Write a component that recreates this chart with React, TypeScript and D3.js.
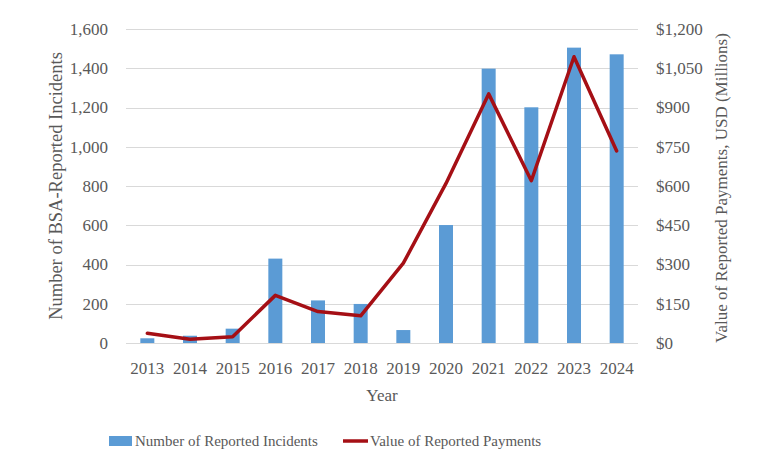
import React, { useEffect, useRef } from "react";
import * as d3 from "d3";

const years = ["2013", "2014", "2015", "2016", "2017", "2018", "2019", "2020", "2021", "2022", "2023", "2024"];
const incidents = [24, 37, 73, 430, 217, 199, 66, 601, 1398, 1201, 1505, 1471];
const payments = [37, 14, 24, 182, 120, 104, 305, 610, 952, 620, 1094, 734];
const leftTicks = [0, 200, 400, 600, 800, 1000, 1200, 1400, 1600];
const rightTicks = [0, 150, 300, 450, 600, 750, 900, 1050, 1200];

const BAR = "#5b9bd5";
const LINE = "#a50f15";
const TEXT = "#595959";
const FONT = "'Liberation Serif', 'DejaVu Serif', serif";

const App = () => {
  const ref = useRef<SVGSVGElement>(null);

  useEffect(() => {
    draw();
  });

  const draw = () => {
    const svg = d3.select(ref.current);
    svg.selectAll("*").remove();

    const left = 126;
    const right = 638;
    const top = 29;
    const bottom = 343;

    const x = d3.scaleBand().domain(years).range([left, right]).paddingInner(0).paddingOuter(0);
    const yL = d3.scaleLinear().domain([0, 1600]).range([bottom, top]);
    const yR = d3.scaleLinear().domain([0, 1200]).range([bottom, top]);

    const g = svg.append("g").attr("font-family", FONT).attr("fill", TEXT);

    // gridlines
    g.selectAll(".grid")
      .data(leftTicks)
      .enter()
      .append("line")
      .attr("x1", left)
      .attr("x2", right)
      .attr("y1", (d) => Math.round(yL(d)) + 0.5)
      .attr("y2", (d) => Math.round(yL(d)) + 0.5)
      .attr("stroke", "#d9d9d9")
      .attr("stroke-width", 1);

    // left tick labels
    g.selectAll(".ltick")
      .data(leftTicks)
      .enter()
      .append("text")
      .attr("x", 108)
      .attr("y", (d) => yL(d))
      .attr("dy", "0.35em")
      .attr("text-anchor", "end")
      .attr("font-size", 17)
      .text((d) => d3.format(",")(d));

    // right tick labels
    g.selectAll(".rtick")
      .data(rightTicks)
      .enter()
      .append("text")
      .attr("x", 656)
      .attr("y", (d) => yR(d))
      .attr("dy", "0.35em")
      .attr("text-anchor", "start")
      .attr("font-size", 17)
      .text((d) => "$" + d3.format(",")(d));

    // bars
    const bw = 14;
    g.selectAll(".bar")
      .data(incidents)
      .enter()
      .append("rect")
      .attr("x", (d, i) => (x(years[i]) as number) + x.bandwidth() / 2 - bw / 2)
      .attr("y", (d) => yL(d))
      .attr("width", bw)
      .attr("height", (d) => bottom - yL(d))
      .attr("fill", BAR);

    // line
    const line = d3
      .line<number>()
      .x((d, i) => (x(years[i]) as number) + x.bandwidth() / 2)
      .y((d) => yR(d));
    g.append("path")
      .datum(payments)
      .attr("fill", "none")
      .attr("stroke", LINE)
      .attr("stroke-width", 3.5)
      .attr("stroke-linejoin", "round")
      .attr("stroke-linecap", "round")
      .attr("d", line);

    // x labels
    g.selectAll(".xlab")
      .data(years)
      .enter()
      .append("text")
      .attr("x", (d) => (x(d) as number) + x.bandwidth() / 2)
      .attr("y", 368)
      .attr("dy", "0.35em")
      .attr("text-anchor", "middle")
      .attr("font-size", 17)
      .text((d) => d);

    g.append("text")
      .attr("x", (left + right) / 2)
      .attr("y", 395)
      .attr("dy", "0.35em")
      .attr("text-anchor", "middle")
      .attr("font-size", 17)
      .text("Year");

    g.append("text")
      .attr("transform", `translate(56,186) rotate(-90)`)
      .attr("dy", "0.35em")
      .attr("text-anchor", "middle")
      .attr("font-size", 18.5)
      .text("Number of BSA-Reported Incidents");

    g.append("text")
      .attr("transform", `translate(721,188) rotate(-90)`)
      .attr("dy", "0.35em")
      .attr("text-anchor", "middle")
      .attr("font-size", 17)
      .text("Value of Reported Payments, USD (Millions)");

    // legend
    g.append("rect").attr("x", 109).attr("y", 436).attr("width", 23).attr("height", 10).attr("fill", BAR);
    g.append("text")
      .attr("x", 135)
      .attr("y", 441)
      .attr("dy", "0.35em")
      .attr("font-size", 15)
      .text("Number of Reported Incidents");
    g.append("line")
      .attr("x1", 343)
      .attr("x2", 368)
      .attr("y1", 441)
      .attr("y2", 441)
      .attr("stroke", LINE)
      .attr("stroke-width", 3.5);
    g.append("text")
      .attr("x", 370)
      .attr("y", 441)
      .attr("dy", "0.35em")
      .attr("font-size", 15)
      .text("Value of Reported Payments");
  };

  return (
    <svg
      ref={ref}
      width={778}
      height={473}
      style={{ position: "absolute", left: 0, top: 0, background: "#fff" }}
    />
  );
};

export default App;
